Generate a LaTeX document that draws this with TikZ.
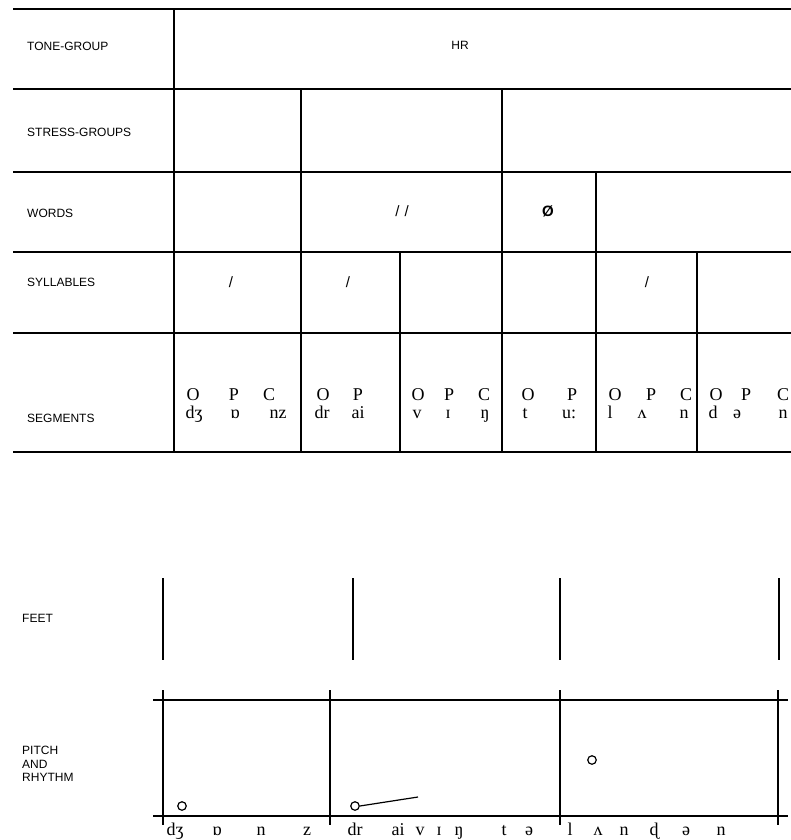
\documentclass[tikz,border=0pt]{standalone}
\usepackage{fontspec}
\setmainfont{Liberation Serif}
\setsansfont{Liberation Sans}
\usetikzlibrary{positioning}

\begin{document}
\begin{tikzpicture}[
  x=1pt,y=-1pt,
  rule/.style={draw=black,line width=1.2pt},
  tierlabel/.style={anchor=west,inner sep=0pt,align=left,
    font=\sffamily\fontsize{12}{13.8}\selectfont},
  smallsign/.style={inner sep=0pt,font=\sffamily\fontsize{12}{14}\selectfont},
  slashsign/.style={smallsign,font=\sffamily\fontsize{15}{17}\selectfont},
  seg/.style={anchor=base,inner sep=0pt,font=\fontsize{18}{20}\selectfont},
  pitchdot/.style={circle,draw=black,line width=1.2pt,minimum size=8.5pt,inner sep=0pt}
]
\useasboundingbox (0,0) rectangle (791,840);

% tier labels
\node[tierlabel] (tone)     at (27,46)  {TONE-GROUP};
\node[tierlabel] (stress)   at (27,132) {STRESS-GROUPS};
\node[tierlabel] (words)    at (27,213) {WORDS};
\node[tierlabel] (syll)     at (27,282) {SYLLABLES};
\node[tierlabel] (segments) at (27,418) {SEGMENTS};
\node[tierlabel] (feet)     at (22,618) {FEET};
\node[tierlabel] (pitch)    at (22,764) {PITCH\\AND\\RHYTHM};

% upper grid
\foreach \gy in {9,89,172,252,333,452}
  \draw[rule] (13,\gy) -- (791,\gy);
\foreach \gx/\gtop in {174/9,301/89,502/89,596/172,400/252,697/252}
  \draw[rule] (\gx,\gtop) -- (\gx,452);

% cell contents
\node[smallsign] (hr) at (460,45) {HR};
\node[slashsign] (wbound) at (402,211) {/\,\,/};
\node[smallsign,font=\sffamily\bfseries\fontsize{15}{17}\selectfont] (zero) at (548,211) {Ø};
\foreach \sx [count=\i] in {231,348,647}
  \node[slashsign] (sstress\i) at (\sx,282) {/};

% segments: O P C and their sounds
\foreach \sx/\st [count=\i] in {193/O,234/P,269/C,323/O,358/P,418/O,449/P,484/C,
    528/O,572/P,615/O,651/P,686/C,716/O,746/P,783/C}
  \node[seg] (opc\i) at (\sx,400) {\st};
\foreach \sx/\st [count=\i] in {194/dʒ,235/ɒ,278/nz,322/dr,358/ai,417/v,448/ɪ,485/ŋ,
    525/t,569/u:,610/l,642/ʌ,684/n,713/d,737/ə,783/n}
  \node[seg] (snd\i) at (\sx,418) {\st};

% feet
\foreach \fx [count=\i] in {163,353,560,779}
  \draw[rule] (\fx,578) -- (\fx,660);

% pitch and rhythm box
\foreach \py in {700,816}
  \draw[rule] (153,\py) -- (788,\py);
\foreach \px in {163,330,560,778}
  \draw[rule] (\px,690) -- (\px,825);

\node[pitchdot] (dot1) at (182,806) {};
\node[pitchdot] (dot2) at (355,806) {};
\node[pitchdot] (dot3) at (592,760) {};
\coordinate (glide) at (418,797);
\draw[line width=1.2pt] (dot2.east) -- (glide);

% rhythm line of sounds
\foreach \sx/\st [count=\i] in {175/dʒ,217/ɒ,261/n,307/z,355/dr,398/ai,420/v,439/ɪ,459/ŋ,
    504/t,529/ə,570/l,598/ʌ,624/n,654/ɖ,686/ə,721/n}
  \node[seg] (rsnd\i) at (\sx,835) {\st};

\end{tikzpicture}
\end{document}
